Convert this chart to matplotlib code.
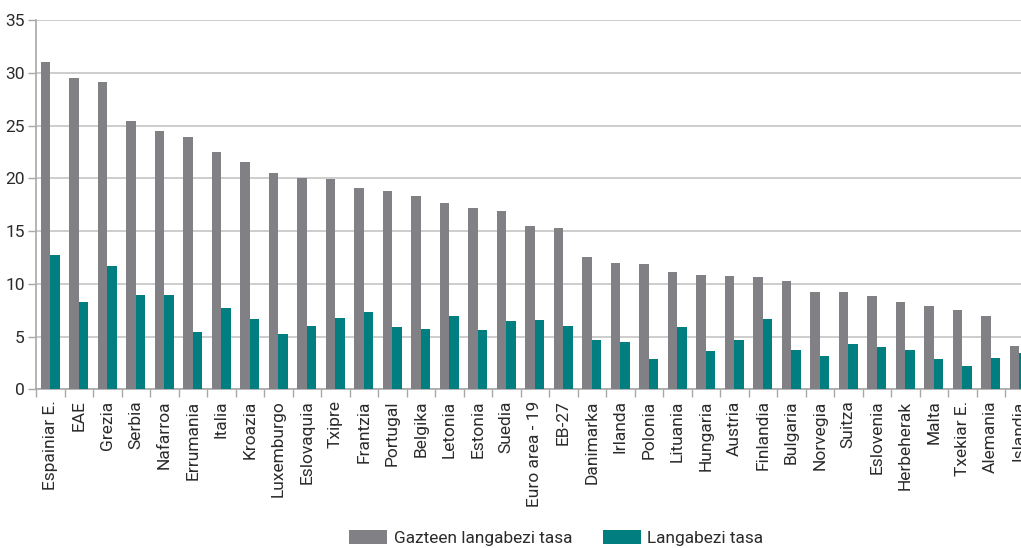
import matplotlib
matplotlib.use("Agg")
import matplotlib.pyplot as plt
import numpy as np

categories = [
    "Espainiar E.", "EAE", "Grezia", "Serbia", "Nafarroa", "Errumania", "Italia",
    "Kroazia", "Luxemburgo", "Eslovaquia", "Txipre", "Frantzia", "Portugal",
    "Belgika", "Letonia", "Estonia", "Suedia", "Euro area - 19", "EB-27",
    "Danimarka", "Irlanda", "Polonia", "Lituania", "Hungaria", "Austria",
    "Finlandia", "Bulgaria", "Norvegia", "Suitza", "Eslovenia", "Herbeherak",
    "Malta", "Txekiar E.", "Alemania", "Islandia",
]
youth_rate = [
    31.0, 29.5, 29.1, 25.4, 24.5, 23.9, 22.5,
    21.5, 20.5, 20.0, 19.9, 19.1, 18.8,
    18.3, 17.7, 17.2, 16.9, 15.5, 15.3,
    12.5, 12.0, 11.9, 11.1, 10.8, 10.7,
    10.6, 10.3, 9.2, 9.2, 8.8, 8.3,
    7.9, 7.5, 6.9, 4.1,
]
total_rate = [
    12.7, 8.3, 11.7, 8.9, 8.9, 5.4, 7.7,
    6.7, 5.2, 6.0, 6.8, 7.3, 5.9,
    5.7, 6.9, 5.6, 6.5, 6.6, 6.0,
    4.7, 4.5, 2.9, 5.9, 3.6, 4.7,
    6.7, 3.7, 3.2, 4.3, 4.0, 3.7,
    2.9, 2.2, 3.0, 3.4,
]
series_labels = ["Gazteen langabezi tasa", "Langabezi tasa"]
y_ticks = [0, 5, 10, 15, 20, 25, 30, 35]

GRAY = "#808085"
TEAL = "#007E80"
GRID = "#c9c9c9"
AXIS = "#a8a8a8"
TEXT = "#2b2b2b"

plt.rcParams["font.family"] = ["Roboto", "DejaVu Sans"]

W, H = 1021, 548
fig = plt.figure(figsize=(W / 100, H / 100), dpi=100)
# the plot area runs a little past the right edge of the canvas
ax = fig.add_axes([36 / W, 1 - 389.3 / H, 997.5 / W, (389.3 - 20) / H])

x = np.arange(len(categories))
w = 0.33
ax.bar(x - w / 2, youth_rate, width=w, color=GRAY, label=series_labels[0], zorder=3)
ax.bar(x + w / 2, total_rate, width=w, color=TEAL, label=series_labels[1], zorder=3)

ax.set_xlim(-0.5, len(categories) - 0.5)
ax.set_ylim(0, 35)
ax.set_yticks(y_ticks)
ax.yaxis.grid(True, color=GRID, linewidth=1.3, zorder=0)
ax.set_axisbelow(True)

ax.set_xticks(x)
ax.set_xticklabels(categories, rotation=90, fontsize=12.5, color=TEXT)
ax.set_xticks(np.arange(-0.5, len(categories), 1.0), minor=True)
ax.tick_params(axis="x", which="major", length=0, pad=8)
ax.tick_params(axis="x", which="minor", length=6, width=1, color=AXIS)
ax.tick_params(axis="y", length=6, width=1, color=AXIS, labelsize=12.5,
               labelcolor=TEXT, pad=2)

for side in ("top", "right"):
    ax.spines[side].set_visible(False)
for side in ("left", "bottom"):
    ax.spines[side].set_color(AXIS)
    ax.spines[side].set_linewidth(1.2)

fig.legend(loc="center", bbox_to_anchor=(0.545, 1 - 538 / H), ncol=2,
           frameon=False, fontsize=12.4, handlelength=2.2, handleheight=0.87,
           handletextpad=0.4, columnspacing=1.75, labelcolor=TEXT,
           borderpad=0.2)

fig.savefig("out.png", dpi=100)
